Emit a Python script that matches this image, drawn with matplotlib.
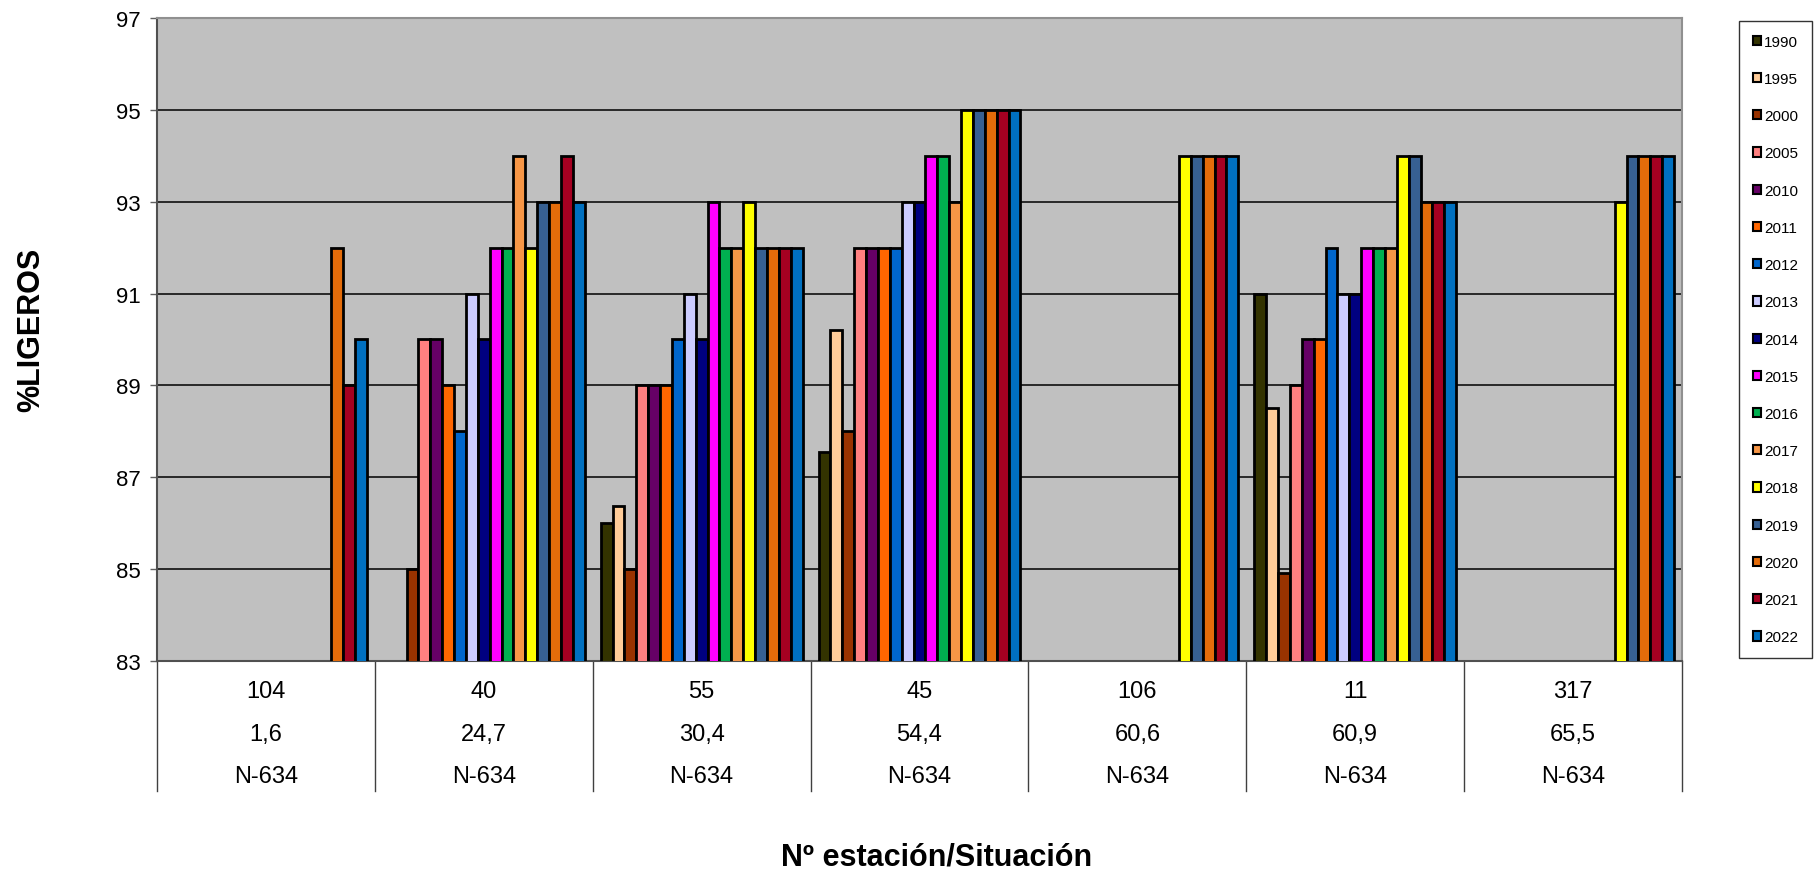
import matplotlib.pyplot as plt
import numpy as np

nan = np.nan

estaciones = ["104", "40", "55", "45", "106", "11", "317"]
pk = ["1,6", "24,7", "30,4", "54,4", "60,6", "60,9", "65,5"]
carretera = ["N-634"] * 7

years = ["1990", "1995", "2000", "2005", "2010", "2011", "2012", "2013", "2014",
         "2015", "2016", "2017", "2018", "2019", "2020", "2021", "2022"]

colors = ["#333300", "#FFCC99", "#993300", "#FF8080", "#660066", "#FF6600",
          "#0066CC", "#CCCCFF", "#000080", "#FF00FF", "#00B050", "#F79646",
          "#FFFF00", "#376092", "#E46C0A", "#A50021", "#0070C0"]

# %ligeros por año, una lista por estación (104, 40, 55, 45, 106, 11, 317)
v1990 = [nan, nan, 86, 87.56, nan, 91, nan]
v1995 = [nan, nan, 86.37, 90.2, nan, 88.5, nan]
v2000 = [nan, 85, 85, 88, nan, 84.92, nan]
v2005 = [nan, 90, 89, 92, nan, 89, nan]
v2010 = [nan, 90, 89, 92, nan, 90, nan]
v2011 = [nan, 89, 89, 92, nan, 90, nan]
v2012 = [nan, 88, 90, 92, nan, 92, nan]
v2013 = [nan, 91, 91, 93, nan, 91, nan]
v2014 = [nan, 90, 90, 93, nan, 91, nan]
v2015 = [nan, 92, 93, 94, nan, 92, nan]
v2016 = [nan, 92, 92, 94, nan, 92, nan]
v2017 = [nan, 94, 92, 93, nan, 92, nan]
v2018 = [nan, 92, 93, 95, 94, 94, 93]
v2019 = [nan, 93, 92, 95, 94, 94, 94]
v2020 = [92, 93, 92, 95, 94, 93, 94]
v2021 = [89, 94, 92, 95, 94, 93, 94]
v2022 = [90, 93, 92, 95, 94, 93, 94]

series = [v1990, v1995, v2000, v2005, v2010, v2011, v2012, v2013, v2014,
          v2015, v2016, v2017, v2018, v2019, v2020, v2021, v2022]

W, H = 1819, 878
fig = plt.figure(figsize=(W / 100, H / 100), dpi=100)
ax = fig.add_axes([157 / W, 1 - 662 / H, (1682 - 157) / W, (662 - 19) / H])
ax.set_facecolor("#C0C0C0")

x = np.arange(len(estaciones))
w = 0.0545
handles = []
for j, vals in enumerate(series):
    b = ax.bar(x + (j - 8) * w, vals, w, color=colors[j], edgecolor="black",
               linewidth=2.0, label=years[j], zorder=3)
    handles.append(b)

ax.set_xlim(-0.5, len(estaciones) - 0.5)
ax.set_ylim(83, 97)
ax.set_yticks(np.arange(83, 98, 2))
ax.yaxis.grid(True, color="black", linewidth=1.1)
ax.set_axisbelow(True)
ax.set_xticks([])
ax.tick_params(axis="y", direction="out", length=5, width=1, color="#606060",
               pad=7, labelsize=16)
for lab in ax.get_yticklabels():
    lab.set_family("Liberation Sans")

for s in ["top", "right"]:
    ax.spines[s].set_color("#909090")
    ax.spines[s].set_linewidth(1.5)
ax.spines["left"].set_color("#505050")
ax.spines["bottom"].set_color("#505050")
ax.spines["left"].set_linewidth(1.5)
ax.spines["bottom"].set_linewidth(1.5)

# separadores y etiquetas de categoria
trans = ax.get_xaxis_transform()
for b in np.arange(-0.5, len(estaciones), 1.0):
    ax.plot([b, b], [0, -130 / 643], color="#404040", lw=1.0,
            transform=trans, clip_on=False)
narrow = ["Liberation Sans Narrow", "Liberation Sans"]
rows = [(estaciones, -30 / 643), (pk, -73 / 643), (carretera, -115 / 643)]
for labels, yy in rows:
    for i, t in enumerate(labels):
        ax.text(i, yy, t, transform=trans, ha="center", va="center",
                fontsize=17, family=narrow)

fig.text(937 / W, 1 - 858 / H, "Nº estación/Situación", ha="center",
         va="center", fontsize=22, fontweight="bold", family="Liberation Sans")
fig.text(31 / W, 1 - 330 / H, "%LIGEROS", ha="center", va="center",
         rotation=90, fontsize=22, fontweight="bold", family="Liberation Sans")

leg = fig.legend(handles=handles, loc="upper left",
                 bbox_to_anchor=(1739 / W, 1 - 22 / H), borderaxespad=0,
                 fancybox=False, frameon=True, edgecolor="black",
                 prop={"family": "Liberation Sans", "size": 11},
                 handlelength=0.55, handleheight=0.55, handletextpad=0.2,
                 labelspacing=1.52, borderpad=0.9)
leg.get_frame().set_linewidth(1.0)
for p in leg.get_patches():
    p.set_linewidth(1.5)

fig.savefig("out.png", dpi=100)
